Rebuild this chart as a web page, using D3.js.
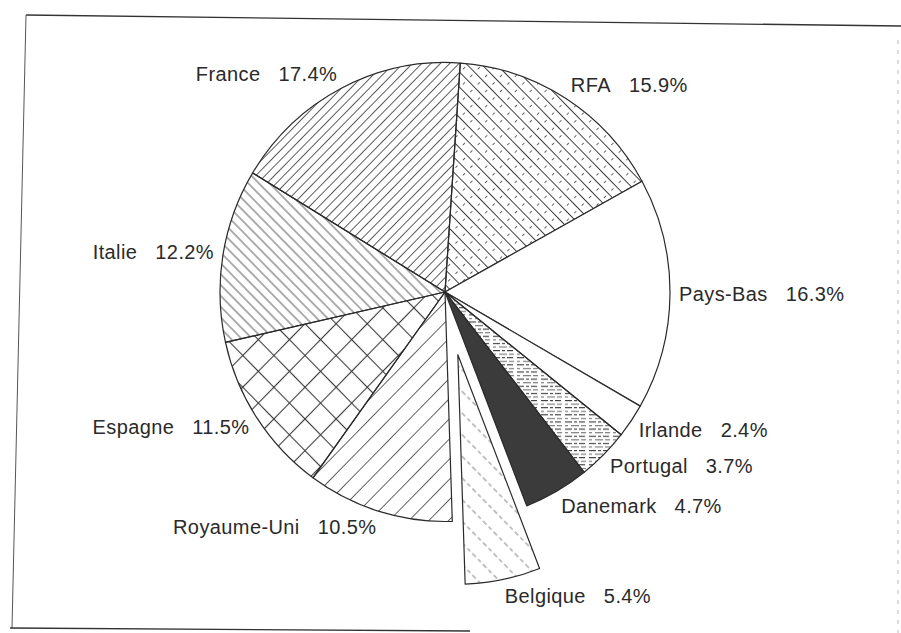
<!DOCTYPE html>
<html>
<head>
<meta charset="utf-8">
<script src="https://cdn.jsdelivr.net/npm/d3@7/dist/d3.min.js"></script>
<style>
  html, body { margin: 0; padding: 0; background: #fff; }
  svg { display: block; }
  text { font-family: "Liberation Sans", Arial, sans-serif; fill: #2a2a2a; }
</style>
</head>
<body>
<svg id="chart" width="901" height="633"></svg>
<script>
// ---- data ----
const countries = ["RFA", "Pays-Bas", "Irlande", "Portugal", "Danemark", "Belgique",
                   "Royaume-Uni", "Espagne", "Italie", "France"];
const shares = [15.9, 16.3, 2.4, 3.7, 4.7, 5.4, 10.5, 11.5, 12.2, 17.4];
const explodedCountries = ["Belgique"];

// ---- layout ----
const W = 901, H = 633;
const cx = 445, cy = 292;
const R = 225, yStretch = 1.02;
const startDeg = 3.9;
const explodeDist = 64;
const labelRx = 234, labelRy = 246;

const svg = d3.select("#chart");
const defs = svg.append("defs");

function linePattern(id, spacing, angle, stroke, width, dash, extraAngle) {
  const p = defs.append("pattern")
    .attr("id", id)
    .attr("patternUnits", "userSpaceOnUse")
    .attr("width", spacing).attr("height", spacing)
    .attr("patternTransform", `rotate(${angle})`);
  p.append("line")
    .attr("x1", spacing / 2).attr("y1", -1)
    .attr("x2", spacing / 2).attr("y2", spacing + 1)
    .attr("stroke", stroke).attr("stroke-width", width)
    .attr("stroke-dasharray", dash || null);
  if (extraAngle) {
    p.append("line")
      .attr("x1", -1).attr("y1", spacing / 2)
      .attr("x2", spacing + 1).attr("y2", spacing / 2)
      .attr("stroke", extraAngle.stroke).attr("stroke-width", extraAngle.width)
      .attr("stroke-dasharray", extraAngle.dash || null);
  }
  return `url(#${id})`;
}

// horizontal dense lines for Portugal
(function () {
  const p = defs.append("pattern")
    .attr("id", "pPortugal")
    .attr("patternUnits", "userSpaceOnUse")
    .attr("width", 24).attr("height", 7);
  p.append("line").attr("x1", 0).attr("y1", 1.5).attr("x2", 24).attr("y2", 1.5)
    .attr("stroke", "#3a3a3a").attr("stroke-width", 1.1).attr("stroke-dasharray", "7 2 3 2 6 4");
  p.append("line").attr("x1", 0).attr("y1", 5).attr("x2", 24).attr("y2", 5)
    .attr("stroke", "#555").attr("stroke-width", 0.9).attr("stroke-dasharray", "3 3 8 2 5 3");
})();

const fillFor = {
  "RFA": linePattern("pRFA", 10.5, -45, "#3a3a3a", 1.0, null, { stroke: "#555", width: 0.9, dash: "3 7.5" }),
  "Pays-Bas": "#ffffff",
  "Irlande": "#ffffff",
  "Portugal": "url(#pPortugal)",
  "Danemark": "#3b3b3b",
  "Belgique": linePattern("pBelgique", 15, -45, "#777", 0.9, "4 3"),
  "Royaume-Uni": linePattern("pRU", 14, 45, "#555", 0.9),
  "Espagne": linePattern("pEspagne", 22, 45, "#3a3a3a", 1.1, null, { stroke: "#3a3a3a", width: 1.1 }),
  "Italie": linePattern("pItalie", 7.5, -45, "#444", 0.85),
  "France": linePattern("pFrance", 6.6, 45, "#444", 0.85)
};

// ---- frame ----
const frame = svg.append("g").attr("fill", "none");
const edge = d3.line();
frame.append("path").attr("d", edge([[26, 15], [901, 26]])).attr("stroke", "#333").attr("stroke-width", 1.3);
frame.append("path").attr("d", edge([[26, 15], [12, 628]])).attr("stroke", "#555").attr("stroke-width", 1);
frame.append("path").attr("d", edge([[10, 628], [470, 631]])).attr("stroke", "#333").attr("stroke-width", 1.3);
frame.append("path").attr("d", edge([[898, 40], [898, 633]])).attr("stroke", "#bbb").attr("stroke-width", 1).attr("stroke-dasharray", "4 6");

// ---- pie ----
const data = countries.map((c, i) => ({ country: c, value: shares[i] }));
const a0 = startDeg * Math.PI / 180;
const pie = d3.pie().value(d => d.value).sort(null).startAngle(a0).endAngle(a0 + 2 * Math.PI);
const arcs = pie(data);
const arc = d3.arc().innerRadius(0).outerRadius(R);

const g = svg.append("g").attr("transform", `translate(${cx},${cy}) scale(1,${yStretch})`);

function offsetOf(d) {
  if (!explodedCountries.includes(d.data.country)) return [0, 0];
  const m = (d.startAngle + d.endAngle) / 2;
  return [Math.sin(m) * explodeDist, -Math.cos(m) * explodeDist / yStretch];
}

g.selectAll("path.slice")
  .data(arcs)
  .join("path")
  .attr("class", "slice")
  .attr("transform", d => { const o = offsetOf(d); return `translate(${o[0]},${o[1]})`; })
  .attr("d", arc)
  .attr("fill", d => fillFor[d.data.country])
  .attr("stroke", "#2a2a2a")
  .attr("stroke-width", 1.2)
  .attr("stroke-linejoin", "round");

// ---- labels ----
const fmt = v => v.toFixed(1) + "%";
const labels = svg.append("g");
arcs.forEach(d => {
  const m = (d.startAngle + d.endAngle) / 2;
  const o = offsetOf(d);
  const x = cx + o[0] + Math.sin(m) * labelRx;
  const y = cy + o[1] * yStretch - Math.cos(m) * labelRy;
  const right = Math.sin(m) >= 0;
  const t = labels.append("text")
    .attr("x", x).attr("y", y)
    .attr("dy", "0.35em")
    .attr("text-anchor", right ? "start" : "end")
    .attr("font-size", 20)
    .attr("letter-spacing", 0.4);
  t.append("tspan").text(d.data.country);
  t.append("tspan").attr("dx", 18).text(fmt(d.data.value));
});
</script>
</body>
</html>
